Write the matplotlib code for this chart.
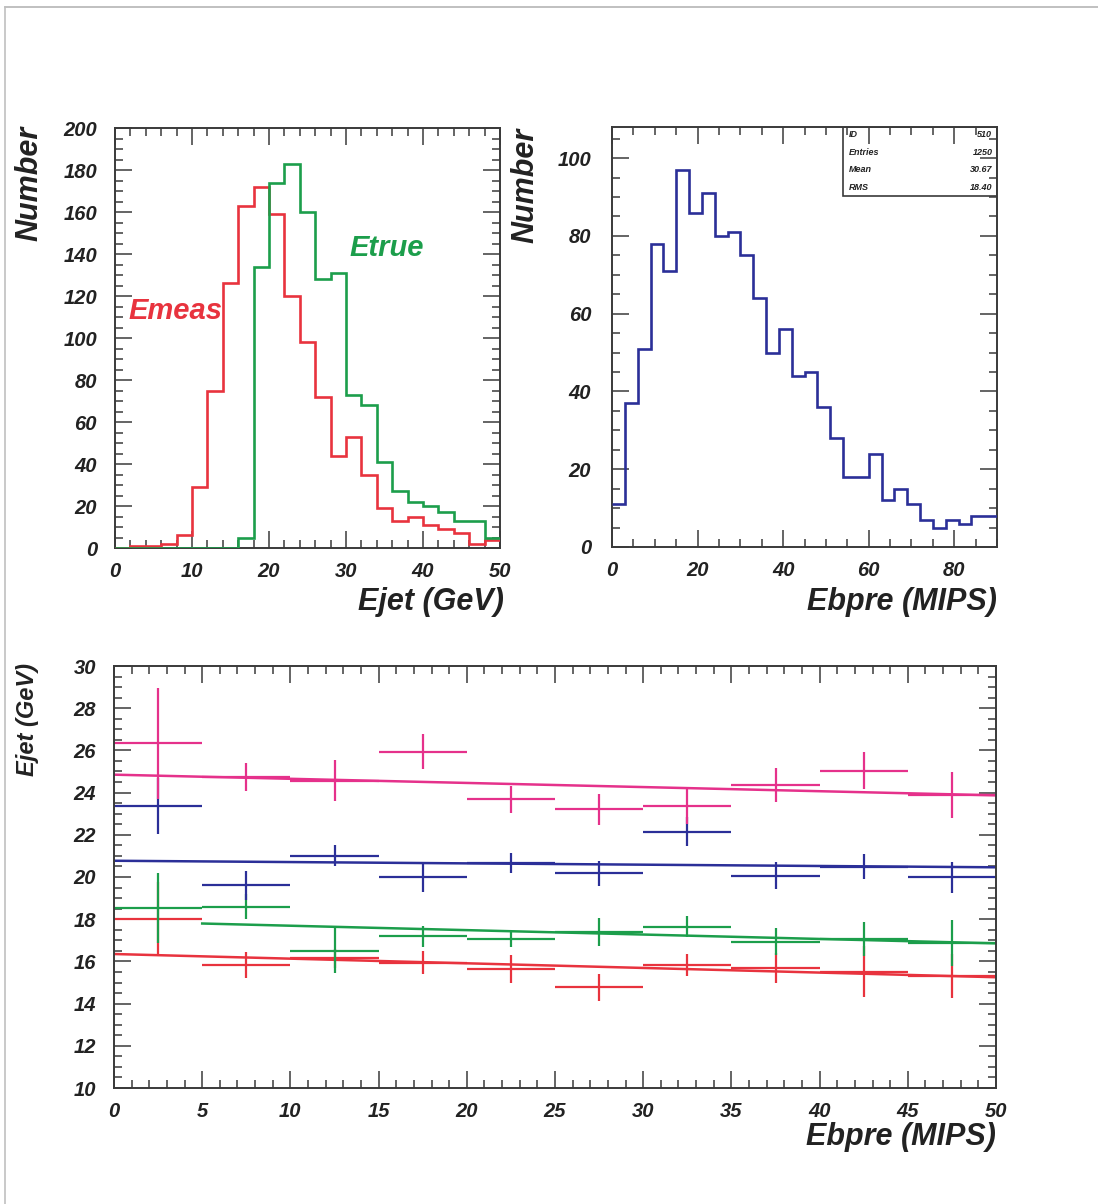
import numpy as np
import matplotlib.pyplot as plt
from matplotlib.lines import Line2D
from matplotlib.patches import Rectangle
from matplotlib.ticker import MultipleLocator

plt.rcParams['font.family'] = ['Liberation Sans', 'DejaVu Sans']
plt.rcParams['font.weight'] = 'bold'
plt.rcParams['font.style'] = 'italic'

# Ejet histograms, 2 GeV bins from 0 to 50
ejet_edges = np.arange(0, 52, 2)
emeas = [0, 1, 1, 2, 6, 29, 75, 126, 163, 172, 159, 120, 98, 72, 44,
         53, 35, 19, 13, 15, 11, 9, 7, 2, 4]
etrue = [0, 0, 0, 0, 0, 0, 0, 0, 5, 134, 174, 183, 160, 128, 131,
         73, 68, 41, 27, 22, 20, 17, 13, 13, 5]

# Ebpre histogram, 3 MIPS bins from 0 to 90
ebpre_edges = np.arange(0, 93, 3)
ebpre = [11, 37, 51, 78, 71, 97, 86, 91, 80, 81, 75, 64, 50, 56, 44,
         45, 36, 28, 18, 18, 24, 12, 15, 11, 7, 5, 7, 6, 8, 8]
stats_names = ['ID', 'Entries', 'Mean', 'RMS']
stats_values = ['510', '1250', '30.67', '18.40']

# Ejet vs Ebpre profiles, 5 MIPS bins
prof_x = np.arange(2.5, 50, 5)
prof_xerr = 2.5
prof_red = [18.0, 15.83, 16.15, 15.94, 15.64, 14.77, 15.83, 15.67, 15.51, 15.31]
prof_red_err = [1.75, 0.63, 0.45, 0.54, 0.65, 0.63, 0.52, 0.71, 1.2, 1.05]
prof_green = [18.52, 18.6, 16.51, 17.2, 17.06, 17.41, 17.65, 16.94, 17.05, 16.86]
prof_green_err = [1.65, 0.6, 1.07, 0.5, 0.4, 0.67, 0.5, 0.63, 0.8, 1.08]
prof_blue = [23.37, 19.6, 21.01, 19.98, 20.68, 20.17, 22.15, 20.06, 20.49, 19.98]
prof_blue_err = [1.33, 0.68, 0.51, 0.7, 0.47, 0.6, 0.67, 0.65, 0.6, 0.75]
prof_mag = [26.33, 24.75, 24.57, 25.94, 23.68, 23.21, 23.38, 24.36, 25.04, 23.89]
prof_mag_err = [2.63, 0.67, 0.99, 0.84, 0.63, 0.73, 0.85, 0.79, 0.88, 1.1]

# straight-line fits: intercept, slope, fit range
fit_red = (16.35, -0.022, 0, 50)
fit_green = (17.9, -0.0209, 5, 50)
fit_blue = (20.77, -0.0062, 0, 50)
fit_mag = (24.85, -0.0196, 0, 50)

RED = '#e8333e'
GREEN = '#1c9e4b'
BLUE = '#2b2f98'
MAG = '#e5318b'
FRAME = '#3a3a3a'

W, H = 1098, 1204
fig = plt.figure(figsize=(W / 100, H / 100), dpi=100)


def px_axes(l, t, r, b):
    return fig.add_axes([l / W, 1 - b / H, (r - l) / W, (b - t) / H])


def style(ax, xmaj, xmin, ymaj, ymin, ypad):
    ax.xaxis.set_major_locator(MultipleLocator(xmaj))
    ax.xaxis.set_minor_locator(MultipleLocator(xmin))
    ax.yaxis.set_major_locator(MultipleLocator(ymaj))
    ax.yaxis.set_minor_locator(MultipleLocator(ymin))
    ax.tick_params(which='both', direction='in', top=True, right=True,
                   color=FRAME, width=1.1, labelsize=14.5, labelcolor='#222')
    ax.tick_params(which='major', length=12)
    ax.tick_params(which='minor', length=6)
    ax.tick_params(axis='x', pad=10)
    ax.tick_params(axis='y', pad=ypad)
    for s in ax.spines.values():
        s.set_color(FRAME)
        s.set_linewidth(1.4)


# Ejet distributions
ax1 = px_axes(115, 128, 500, 548)
ax1.stairs(emeas, ejet_edges, baseline=None, color=RED, lw=1.9, zorder=3)
ax1.stairs(etrue, ejet_edges, baseline=None, color=GREEN, lw=1.9, zorder=3)
ax1.set_xlim(0, 50)
ax1.set_ylim(0, 200)
style(ax1, 10, 2, 20, 5, 13)
ax1.text(1.7, 113, 'Emeas', color=RED, fontsize=21, va='center', ha='left')
ax1.text(30.5, 143, 'Etrue', color=GREEN, fontsize=21, va='center', ha='left')
ax1.text(-0.221, 0.867, 'Number', transform=ax1.transAxes, rotation=90,
         fontsize=22, ha='center', va='center', color='#222')
ax1.text(1.01, -0.148, 'Ejet (GeV)', transform=ax1.transAxes, fontsize=22,
         ha='right', va='baseline', color='#222')

# Ebpre distribution with stats box
ax2 = px_axes(612, 127, 997, 547)
ax2.stairs(ebpre, ebpre_edges, baseline=None, color=BLUE, lw=1.9, zorder=3)
ax2.set_xlim(0, 90)
ax2.set_ylim(0, 108)
style(ax2, 20, 5, 20, 5, 15)
ax2.add_patch(Rectangle((0.6, 0.836), 0.4, 0.164, transform=ax2.transAxes,
                        facecolor='white', edgecolor=FRAME, lw=1.2, zorder=1))
for i, (name, val) in enumerate(zip(stats_names, stats_values)):
    yy = 0.982 - i * 0.042
    ax2.text(0.615, yy, name, transform=ax2.transAxes, fontsize=6.5,
             va='center', ha='left', color='#222', zorder=3)
    ax2.text(0.988, yy, val, transform=ax2.transAxes, fontsize=6.5,
             va='center', ha='right', color='#222', zorder=3)
ax2.text(-0.226, 0.86, 'Number', transform=ax2.transAxes, rotation=90,
         fontsize=22, ha='center', va='center', color='#222')
ax2.text(1.0, -0.15, 'Ebpre (MIPS)', transform=ax2.transAxes, fontsize=22,
         ha='right', va='baseline', color='#222')

# Ejet profiles vs Ebpre with linear fits
ax3 = px_axes(114, 666, 996, 1088)
series = [(prof_red, prof_red_err, fit_red, RED),
          (prof_green, prof_green_err, fit_green, GREEN),
          (prof_blue, prof_blue_err, fit_blue, BLUE),
          (prof_mag, prof_mag_err, fit_mag, MAG)]
for vals, errs, fit, col in series:
    ax3.errorbar(prof_x, vals, xerr=prof_xerr, yerr=errs, fmt='none',
                 ecolor=col, elinewidth=1.6, capsize=0)
    a, b, x0, x1 = fit
    xf = np.linspace(x0, x1, 50)
    ax3.plot(xf, a + b * xf, color=col, lw=1.8)
ax3.set_xlim(0, 50)
ax3.set_ylim(10, 30)
style(ax3, 5, 1, 2, 0.5, 13)
ax3.text(-0.0986, 0.874, 'Ejet (GeV)', transform=ax3.transAxes, rotation=90,
         fontsize=17, ha='center', va='center', color='#222')
ax3.text(1.0, -0.135, 'Ebpre (MIPS)', transform=ax3.transAxes, fontsize=22,
         ha='right', va='baseline', color='#222')

# page edge
fig.add_artist(Line2D([5 / W, 1], [1 - 7 / H, 1 - 7 / H], color='#b5b5b5', lw=1.2))
fig.add_artist(Line2D([5 / W, 5 / W], [0, 1 - 7 / H], color='#c0c0c0', lw=1.2))

fig.savefig('out.png', dpi=100)
